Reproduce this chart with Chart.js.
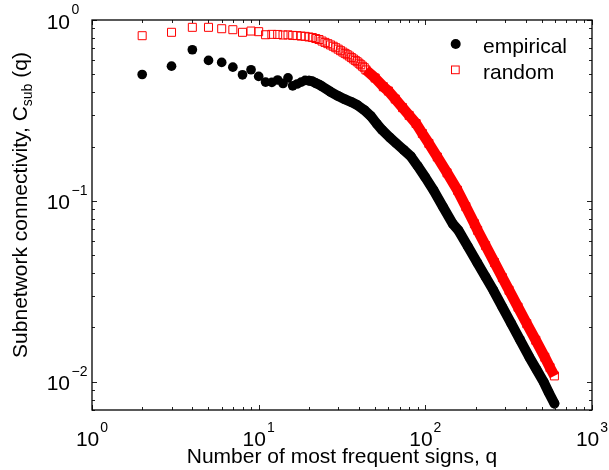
<!DOCTYPE html>
<html><head><meta charset="utf-8">
<script src="https://cdn.jsdelivr.net/npm/chart.js@4.4.1/dist/chart.umd.min.js"></script>
<style>html,body{margin:0;padding:0;background:#fff;}#wrap{width:609px;height:470px;}</style>
</head><body><div id="wrap"><canvas id="c" width="609" height="470"></canvas></div>
<script>
// ---- data ----
const empiricalQ = [2,3,4,5,6,7,8,9,10,11,12,13,14,15,16,17,18,19,20,21,22,23,24,
  27,30,33,36,39,43,47,51,55,61,67,74,82,90,100,112,128,146,158,180,205,230,256,290,328,370,421,465,513,550,595];
const empiricalC = [0.50,0.556,0.685,0.598,0.583,0.549,0.498,0.531,0.488,0.454,0.452,0.466,0.446,0.479,0.433,0.443,0.454,0.464,0.462,0.458,0.448,0.440,0.430,
  0.401,0.380,0.364,0.352,0.339,0.318,0.295,0.268,0.247,0.225,0.208,0.192,0.176,0.156,0.135,0.1146,0.0924,0.0749,0.0688,0.056,0.0456,0.0380,0.0321,0.0259,0.0210,0.0171,0.0137,0.0117,0.0100,0.00875,0.0076];
const randomQ = [2,3,4,5,6,7,8,9,10,11,12,13,14,15,16,17,18,19,20,21,22,23,24,25,26,27,28,29,30,31,32,33,34,35,36,37,38,39,40,41,42,43,44,
  50,56,60,66,73,80,88,96,105,118,135,156,175,197,206,230,260,290,318,360,406,460,521,560,595];
const randomC = [0.819,0.855,0.911,0.911,0.895,0.884,0.855,0.869,0.862,0.829,0.833,0.832,0.826,0.828,0.822,0.820,0.815,0.812,0.806,0.800,0.790,0.780,0.765,0.752,0.740,0.728,0.716,0.703,0.690,0.677,0.665,0.654,0.643,0.632,0.620,0.609,0.598,0.588,0.577,0.566,0.555,0.545,0.530,
  0.478,0.428,0.405,0.366,0.328,0.297,0.268,0.236,0.208,0.175,0.143,0.1146,0.093,0.0749,0.0688,0.0567,0.0457,0.0377,0.0321,0.0259,0.0210,0.0170,0.0137,0.0120,0.0108];
const seriesNames = ['empirical', 'random'];
const xTickValues = [1, 10, 100, 1000];
const xTickExponents = ['0', '1', '2', '3'];
const yTickValues = [0.01, 0.1, 1];
const yTickExponents = ['\u22122', '\u22121', '0'];
const xTitle = 'Number of most frequent signs, q';
const yTitleParts = ['Subnetwork connectivity, C', 'sub', ' (q)'];
const xRange = [1, 1000];
const yRange = [0.007, 1];
// where the markers become dense enough to merge into a band
const empiricalBandFrom = 20;
const randomBandFrom = 44;

const FONT = '"Liberation Sans", Arial, Helvetica, sans-serif';
const pts = (qs, cs) => qs.map((q, i) => ({x: q, y: cs[i]}));
const band = (qs, cs, from) => pts(qs, cs).filter(p => p.x >= from);

const overlay = {
  id: 'overlay',
  afterDraw(chart) {
    const ctx = chart.ctx, xs = chart.scales.x, ys = chart.scales.y, a = chart.chartArea;
    ctx.save();
    ctx.strokeStyle = '#222';
    ctx.lineWidth = 1;
    ctx.beginPath();
    for (let e = -1; e <= 3; e++) {
      for (let m = 1; m <= 9; m++) {
        const v = m * Math.pow(10, e);
        if (v < xRange[0] - 1e-9 || v > xRange[1] + 1e-9) continue;
        const len = m === 1 ? 5 : 3;
        const px = Math.round(xs.getPixelForValue(v)) + 0.5;
        ctx.moveTo(px, a.bottom); ctx.lineTo(px, a.bottom - len);
        ctx.moveTo(px, a.top); ctx.lineTo(px, a.top + len);
      }
    }
    for (let e = -3; e <= 0; e++) {
      for (let m = 1; m <= 9; m++) {
        const v = m * Math.pow(10, e);
        if (v < yRange[0] - 1e-12 || v > yRange[1] + 1e-9) continue;
        const len = m === 1 ? 5 : 3;
        const py = Math.round(ys.getPixelForValue(v)) + 0.5;
        ctx.moveTo(a.left, py); ctx.lineTo(a.left + len, py);
        ctx.moveTo(a.right, py); ctx.lineTo(a.right - len, py);
      }
    }
    ctx.stroke();
    ctx.strokeStyle = '#000';
    ctx.lineWidth = 1.3;
    ctx.strokeRect(a.left, a.top, a.right - a.left, a.bottom - a.top);

    ctx.fillStyle = '#000';
    ctx.textBaseline = 'alphabetic';
    const baseFont = '21px ' + FONT, expFont = '14px ' + FONT;
    xTickValues.forEach((v, i) => {
      const px = xs.getPixelForValue(v);
      ctx.font = baseFont; const wb = ctx.measureText('10').width;
      ctx.font = expFont; const we = ctx.measureText(xTickExponents[i]).width;
      const x0 = px - (wb + 1 + we) / 2;
      ctx.font = baseFont; ctx.textAlign = 'left';
      ctx.fillText('10', x0, 446);
      ctx.font = expFont;
      ctx.fillText(xTickExponents[i], x0 + wb + 1, 432);
    });
    yTickValues.forEach((v, i) => {
      const py = ys.getPixelForValue(v);
      ctx.font = baseFont; ctx.textAlign = 'right';
      ctx.fillText('10', 70, py + 8.5);
      ctx.font = expFont; ctx.textAlign = 'left';
      ctx.fillText(yTickExponents[i], 71.5, py - 6);
    });

    ctx.font = baseFont; ctx.textAlign = 'center';
    ctx.fillText(xTitle, (a.left + a.right) / 2, 463);

    ctx.save();
    ctx.translate(27, 205);
    ctx.rotate(-Math.PI / 2);
    ctx.font = baseFont; const w0 = ctx.measureText(yTitleParts[0]).width;
    const w2 = ctx.measureText(yTitleParts[2]).width;
    ctx.font = expFont; const w1 = ctx.measureText(yTitleParts[1]).width;
    let x = -(w0 + w1 + w2) / 2;
    ctx.textAlign = 'left';
    ctx.font = baseFont; ctx.fillText(yTitleParts[0], x, 0); x += w0;
    ctx.font = expFont; ctx.fillText(yTitleParts[1], x, 5); x += w1;
    ctx.font = baseFont; ctx.fillText(yTitleParts[2], x, 0);
    ctx.restore();

    ctx.fillStyle = '#000';
    ctx.beginPath(); ctx.arc(455.7, 44, 5, 0, Math.PI * 2); ctx.fill();
    ctx.strokeStyle = '#ff0000'; ctx.lineWidth = 1;
    ctx.strokeRect(451.5, 66, 7.7, 7.7);
    ctx.fillStyle = '#000';
    ctx.font = baseFont; ctx.textAlign = 'left';
    ctx.fillText(seriesNames[0], 483, 52.5);
    ctx.fillText(seriesNames[1], 483, 78.5);
    ctx.restore();
  }
};

new Chart(document.getElementById('c'), {
  type: 'scatter',
  data: {
    datasets: [
      { type: 'scatter', label: seriesNames[0], order: 2, data: pts(empiricalQ, empiricalC), showLine: false,
        pointStyle: 'circle', pointRadius: 4.85, pointHoverRadius: 4.85,
        backgroundColor: '#000', borderColor: '#000', borderWidth: 0 },
      { type: 'line', label: seriesNames[0] + ' band', order: 1, data: band(empiricalQ, empiricalC, empiricalBandFrom),
        pointRadius: 0, pointHoverRadius: 0, borderColor: '#000', backgroundColor: '#000', borderWidth: 10,
        borderCapStyle: 'round', borderJoinStyle: 'round', tension: 0, fill: false },
      { type: 'scatter', label: seriesNames[1], order: 4, data: pts(randomQ, randomC), showLine: false,
        pointStyle: 'rect', pointRadius: 5.66, pointHoverRadius: 5.66,
        backgroundColor: 'rgba(0,0,0,0)', borderColor: '#ff0000', borderWidth: 1 },
      { type: 'line', label: seriesNames[1] + ' band', order: 3, data: band(randomQ, randomC, randomBandFrom),
        pointRadius: 0, pointHoverRadius: 0, borderColor: '#ff0000', backgroundColor: '#ff0000', borderWidth: 10.5,
        borderCapStyle: 'butt', borderJoinStyle: 'round', tension: 0, fill: false }
    ]
  },
  options: {
    responsive: false,
    animation: false,
    events: [],
    layout: { padding: { left: 92, right: 17, top: 20, bottom: 60 } },
    plugins: { legend: { display: false }, tooltip: { enabled: false } },
    scales: {
      x: { type: 'logarithmic', min: xRange[0], max: xRange[1], display: false },
      y: { type: 'logarithmic', min: yRange[0], max: yRange[1], display: false }
    }
  },
  plugins: [overlay]
});
</script>
</body></html>
